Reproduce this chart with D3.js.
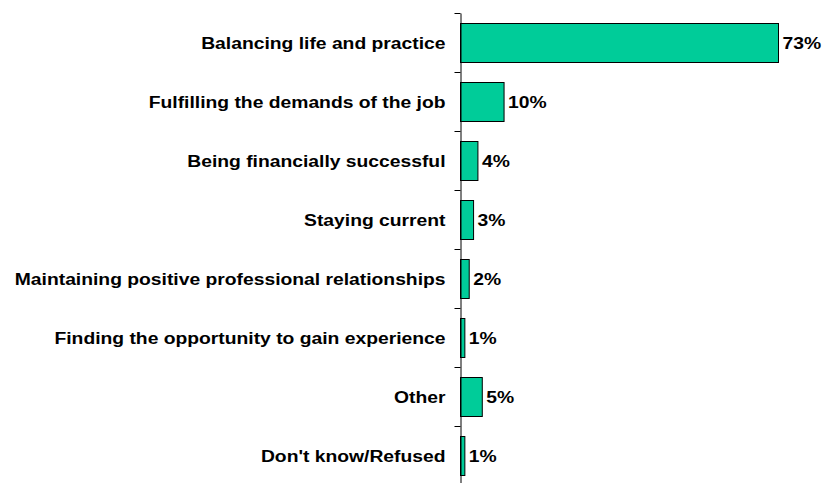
<!DOCTYPE html>
<html><head><meta charset="utf-8">
<script src="https://cdn.jsdelivr.net/npm/d3@7"></script>
<style>body{margin:0;background:#fff}svg{display:block}</style>
</head><body>
<svg id="c" width="824" height="483"></svg>
<script>
const categories = ["Balancing life and practice","Fulfilling the demands of the job","Being financially successful","Staying current","Maintaining positive professional relationships","Finding the opportunity to gain experience","Other","Don't know/Refused"];
const values = [73,10,4,3,2,1,5,1];
const labels = ["73%","10%","4%","3%","2%","1%","5%","1%"];

const svg = d3.select("#c");
const x0 = 460.5;
const sx = 1.135;
const fs = 17;
const x = d3.scaleLinear().domain([0,73]).range([x0, 778.5]);
const y = d3.scaleBand().domain(categories).range([13, 485]).paddingInner(0.34).paddingOuter(0.17);

svg.selectAll("rect.bar").data(values).enter().append("rect")
  .attr("class","bar")
  .attr("x", x0)
  .attr("y", (d,i)=>Math.round(y(categories[i]))+0.5)
  .attr("width", d=>x(d)-x0)
  .attr("height", Math.round(y.bandwidth()))
  .attr("fill","#00CC99").attr("stroke","#000").attr("stroke-width",1);

const axis = d3.axisLeft(y).tickSize(0).tickPadding(15).tickSizeOuter(0);
const g = svg.append("g").attr("transform",`translate(${x0},0)`).call(axis);
g.select(".domain").attr("stroke","#000");
g.selectAll("text")
  .attr("x",0)
  .attr("dy","0.38em")
  .attr("transform",`translate(-15,0) scale(${sx},1)`)
  .attr("font-family","Liberation Sans, Arial, sans-serif").attr("font-weight","bold").attr("font-size",fs).attr("fill","#000");

// boundary ticks
const step = y.step();
const bounds = d3.range(categories.length).map(i=>13+i*step);
svg.selectAll("line.tk").data(bounds).enter().append("line")
  .attr("x1",x0-6).attr("x2",x0).attr("y1",d=>Math.round(d)+0.5).attr("y2",d=>Math.round(d)+0.5)
  .attr("stroke","#000");

svg.selectAll("text.val").data(values).enter().append("text")
  .attr("transform", (d,i)=>`translate(${x(d)+4},${y(categories[i])+y.bandwidth()/2}) scale(${sx},1)`)
  .attr("dy","0.38em")
  .attr("font-family","Liberation Sans, Arial, sans-serif").attr("font-weight","bold").attr("font-size",fs)
  .text((d,i)=>labels[i]);
</script>
</body></html>
